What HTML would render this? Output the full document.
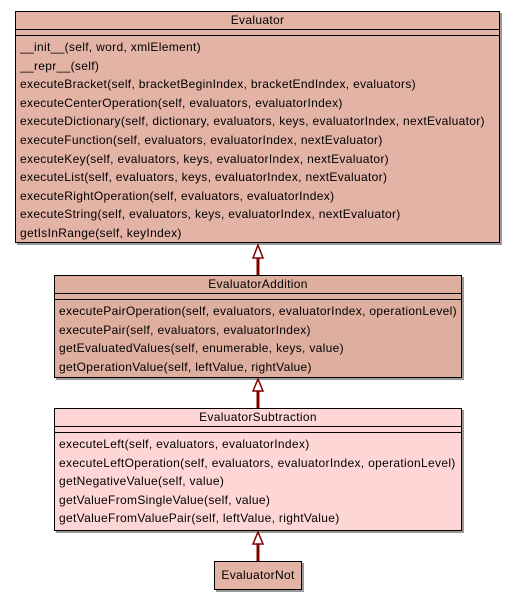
<!DOCTYPE html>
<html><head><style>
body{margin:0;width:515px;height:600px;background:#fff;position:relative;font-family:"Liberation Sans",sans-serif;font-size:12px;letter-spacing:0.32px;color:#000;overflow:hidden}
.b{position:absolute;border:1px solid #000;box-shadow:2px 2px 0 #999;box-sizing:border-box}
.t{height:17px;line-height:17px;text-align:center;border-bottom:1px solid #000}
.s{height:5px;border-bottom:1px solid #000}
.m{padding:2px 0 0 4px}
.m div{height:18.6px;line-height:18.6px;white-space:nowrap}
svg{position:absolute;left:0;top:0}
</style></head><body>
<div class="b" style="left:15px;top:11px;width:485px;height:232px;background:#e3b3a5">
<div class="t">Evaluator</div><div class="s"></div>
<div class="m">
<div>__init__(self, word, xmlElement)</div>
<div>__repr__(self)</div>
<div>executeBracket(self, bracketBeginIndex, bracketEndIndex, evaluators)</div>
<div>executeCenterOperation(self, evaluators, evaluatorIndex)</div>
<div>executeDictionary(self, dictionary, evaluators, keys, evaluatorIndex, nextEvaluator)</div>
<div>executeFunction(self, evaluators, evaluatorIndex, nextEvaluator)</div>
<div>executeKey(self, evaluators, keys, evaluatorIndex, nextEvaluator)</div>
<div>executeList(self, evaluators, keys, evaluatorIndex, nextEvaluator)</div>
<div>executeRightOperation(self, evaluators, evaluatorIndex)</div>
<div>executeString(self, evaluators, keys, evaluatorIndex, nextEvaluator)</div>
<div>getIsInRange(self, keyIndex)</div>
</div></div>
<div class="b" style="left:54px;top:275px;width:408px;height:103px;background:#deae9f">
<div class="t">EvaluatorAddition</div><div class="s"></div>
<div class="m">
<div>executePairOperation(self, evaluators, evaluatorIndex, operationLevel)</div>
<div>executePair(self, evaluators, evaluatorIndex)</div>
<div>getEvaluatedValues(self, enumerable, keys, value)</div>
<div>getOperationValue(self, leftValue, rightValue)</div>
</div></div>
<div class="b" style="left:54px;top:408px;width:408px;height:123px;background:#ffd6d6">
<div class="t">EvaluatorSubtraction</div><div class="s"></div>
<div class="m">
<div>executeLeft(self, evaluators, evaluatorIndex)</div>
<div>executeLeftOperation(self, evaluators, evaluatorIndex, operationLevel)</div>
<div>getNegativeValue(self, value)</div>
<div>getValueFromSingleValue(self, value)</div>
<div>getValueFromValuePair(self, leftValue, rightValue)</div>
</div></div>
<div class="b" style="left:214px;top:561px;width:88px;height:29px;background:#e3b3a5;line-height:27px;text-align:center">EvaluatorNot</div>
<svg width="515" height="600">
<g stroke="#800000" stroke-width="3" fill="#fff">
<line x1="258" y1="258" x2="258" y2="275"/>
<line x1="258" y1="390" x2="258" y2="408"/>
<line x1="258" y1="543" x2="258" y2="561"/>
</g>
<g stroke="#800000" stroke-width="1.5" fill="#fff">
<polygon points="258,245 253,258 263,258"/>
<polygon points="258,379 253,391 263,391"/>
<polygon points="258,532 253,544 263,544"/>
</g>
</svg>
</body></html>
